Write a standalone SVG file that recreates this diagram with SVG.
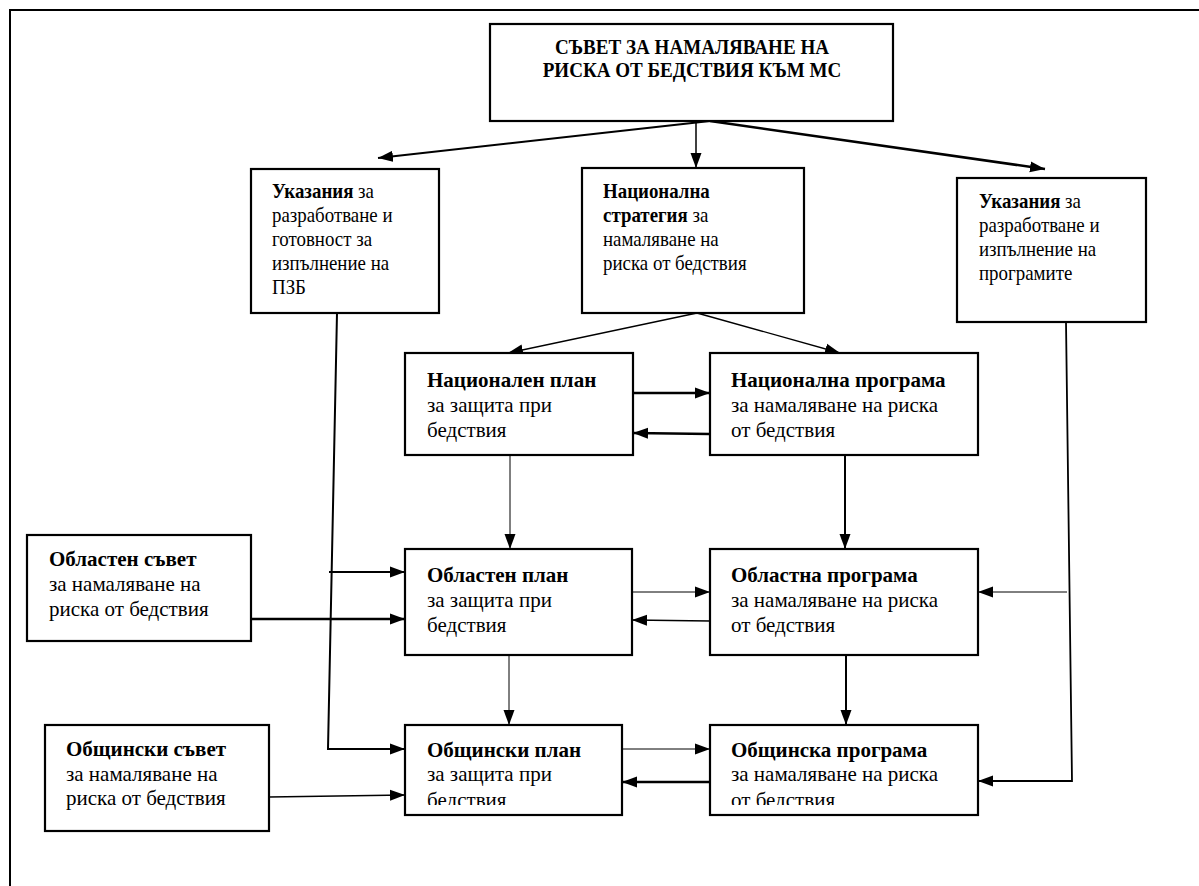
<svg xmlns="http://www.w3.org/2000/svg" width="1199" height="886" viewBox="0 0 1199 886">
<style>
.box{fill:#fff;stroke:#000;stroke-width:2.2}
.t2{font-family:"Liberation Serif","Times New Roman",serif;font-size:21px;fill:#000}
.tt{font-family:"Liberation Serif","Times New Roman",serif;font-size:20.5px;font-weight:bold;fill:#000}
.b{font-weight:bold}
.c{fill:none;stroke:#000}
</style>
<defs>
<marker id="ah" markerUnits="userSpaceOnUse" markerWidth="16" markerHeight="12" refX="15" refY="6" orient="auto">
<path d="M0,0.5 L15,6 L0,11.5 z" fill="#000"/>
</marker>
<clipPath id="clip1"><rect x="405" y="725" width="218" height="80"/></clipPath>
<clipPath id="clip2"><rect x="710" y="725" width="268" height="80"/></clipPath>
</defs>
<rect x="10" y="10" width="1200" height="900" fill="#fff" stroke="#000" stroke-width="2"/>

<g id="connectors">
<line class="c" x1="710" y1="121" x2="378" y2="158" stroke-width="2" marker-end="url(#ah)"/>
<line class="c" x1="696" y1="121" x2="696" y2="168" stroke-width="1.5" marker-end="url(#ah)"/>
<line class="c" x1="710" y1="121" x2="1045" y2="169" stroke-width="2.5" marker-end="url(#ah)"/>
<line class="c" x1="697" y1="313" x2="508" y2="353" stroke-width="1.3" marker-end="url(#ah)"/>
<line class="c" x1="697" y1="313" x2="840" y2="353" stroke-width="1.3" marker-end="url(#ah)"/>
<line class="c" x1="633" y1="393" x2="710" y2="393" stroke-width="2.5" marker-end="url(#ah)"/>
<line class="c" x1="710" y1="434" x2="633" y2="433" stroke-width="2.5" marker-end="url(#ah)"/>
<line class="c" x1="510" y1="455" x2="510" y2="549" stroke-width="1" marker-end="url(#ah)"/>
<line class="c" x1="845" y1="455" x2="845" y2="549" stroke-width="2" marker-end="url(#ah)"/>
<polyline class="c" points="337,313 328,749 405,749" stroke-width="2" marker-end="url(#ah)"/>
<line class="c" x1="329" y1="572" x2="405" y2="572" stroke-width="2" marker-end="url(#ah)"/>
<line class="c" x1="251" y1="619" x2="405" y2="619" stroke-width="2.5" marker-end="url(#ah)"/>
<line class="c" x1="632" y1="592" x2="710" y2="592" stroke-width="1" marker-end="url(#ah)"/>
<line class="c" x1="710" y1="621" x2="632" y2="620" stroke-width="1.5" marker-end="url(#ah)"/>
<line class="c" x1="509" y1="655" x2="509" y2="725" stroke-width="1" marker-end="url(#ah)"/>
<line class="c" x1="846" y1="655" x2="846" y2="725" stroke-width="2" marker-end="url(#ah)"/>
<polyline class="c" points="1066,322 1072,781 978,781" stroke-width="1.8" marker-end="url(#ah)"/>
<line class="c" x1="1067" y1="592" x2="978" y2="592" stroke-width="1" marker-end="url(#ah)"/>
<line class="c" x1="622" y1="749" x2="710" y2="749" stroke-width="1" marker-end="url(#ah)"/>
<line class="c" x1="710" y1="782" x2="622" y2="782" stroke-width="2.5" marker-end="url(#ah)"/>
<line class="c" x1="269" y1="797" x2="405" y2="795" stroke-width="1.5" marker-end="url(#ah)"/>
</g>

<g id="council">
<rect class="box" x="490" y="24" width="403" height="97" stroke-width="3"/>
<text class="tt" text-anchor="middle" transform="translate(692,0) scale(0.93,1)"><tspan x="0" y="54">СЪВЕТ ЗА НАМАЛЯВАНЕ НА</tspan><tspan x="0" y="77">РИСКА ОТ БЕДСТВИЯ КЪМ МС</tspan></text>
</g>

<g id="guidelines-pzb">
<rect class="box" x="251" y="169" width="188" height="144"/>
<text class="t2" transform="translate(272,0) scale(0.9,1)"><tspan x="0" y="198"><tspan class="b">Указания</tspan> за</tspan><tspan x="0" y="222">разработване и</tspan><tspan x="0" y="246">готовност за</tspan><tspan x="0" y="270">изпълнение на</tspan><tspan x="0" y="294">ПЗБ</tspan></text>
</g>

<g id="national-strategy">
<rect class="box" x="582" y="168" width="222" height="145"/>
<text class="t2" transform="translate(603,0) scale(0.9,1)"><tspan x="0" y="198" class="b">Национална</tspan><tspan x="0" y="222"><tspan class="b">стратегия</tspan> за</tspan><tspan x="0" y="246">намаляване на</tspan><tspan x="0" y="270">риска от бедствия</tspan></text>
</g>

<g id="guidelines-programs">
<rect class="box" x="957" y="178" width="189" height="144"/>
<text class="t2" transform="translate(979,0) scale(0.9,1)"><tspan x="0" y="208"><tspan class="b">Указания</tspan> за</tspan><tspan x="0" y="232">разработване и</tspan><tspan x="0" y="256">изпълнение на</tspan><tspan x="0" y="280">програмите</tspan></text>
</g>

<g id="national-plan">
<rect class="box" x="405" y="353" width="228" height="102"/>
<text class="t2"><tspan x="427" y="387" class="b">Национален план</tspan><tspan x="427" y="412">за защита при</tspan><tspan x="427" y="437">бедствия</tspan></text>
</g>

<g id="national-program">
<rect class="box" x="710" y="353" width="268" height="102"/>
<text class="t2"><tspan x="731" y="387" class="b">Национална програма</tspan><tspan x="731" y="412">за намаляване на риска</tspan><tspan x="731" y="437">от бедствия</tspan></text>
</g>

<g id="regional-council">
<rect class="box" x="27" y="535" width="224" height="106"/>
<text class="t2"><tspan x="49" y="566" class="b">Областен съвет</tspan><tspan x="49" y="591">за намаляване на</tspan><tspan x="49" y="616">риска от бедствия</tspan></text>
</g>

<g id="regional-plan">
<rect class="box" x="405" y="549" width="227" height="106"/>
<text class="t2"><tspan x="427" y="582" class="b">Областен план</tspan><tspan x="427" y="607">за защита при</tspan><tspan x="427" y="632">бедствия</tspan></text>
</g>

<g id="regional-program">
<rect class="box" x="710" y="549" width="268" height="106"/>
<text class="t2"><tspan x="731" y="582" class="b">Областна програма</tspan><tspan x="731" y="607">за намаляване на риска</tspan><tspan x="731" y="632">от бедствия</tspan></text>
</g>

<g id="municipal-council">
<rect class="box" x="45" y="725" width="224" height="106"/>
<text class="t2"><tspan x="66" y="756" class="b">Общински съвет</tspan><tspan x="66" y="781">за намаляване на</tspan><tspan x="66" y="805">риска от бедствия</tspan></text>
</g>

<g id="municipal-plan">
<rect class="box" x="405" y="725" width="217" height="90"/>
<text class="t2" clip-path="url(#clip1)"><tspan x="427" y="757" class="b">Общински план</tspan><tspan x="427" y="781">за защита при</tspan><tspan x="427" y="807">бедствия</tspan></text>
</g>

<g id="municipal-program">
<rect class="box" x="710" y="725" width="268" height="90"/>
<text class="t2" clip-path="url(#clip2)"><tspan x="731" y="757" class="b">Общинска програма</tspan><tspan x="731" y="781">за намаляване на риска</tspan><tspan x="731" y="807">от бедствия</tspan></text>
</g>
</svg>
